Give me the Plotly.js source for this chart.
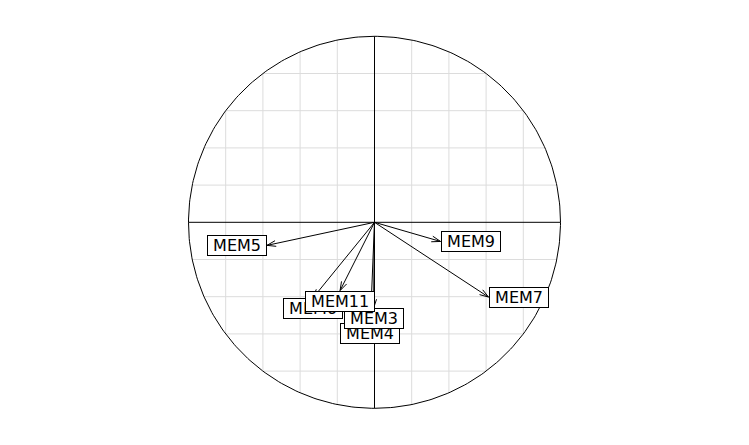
<!DOCTYPE html>
<html>
<head>
<meta charset="utf-8">
<script src="https://cdn.plot.ly/plotly-3.0.1.min.js"></script>
<style>html,body{margin:0;padding:0;background:#fff;}#chart{width:749px;height:445px;}</style>
</head>
<body>
<div id="chart"></div>
<script>
// Variable names and their correlation-circle coordinates
var varNames = ['MEM4', 'MEM3', 'MEM5', 'MEM6', 'MEM11', 'MEM7', 'MEM9'];
var axis1 = [-0.022, -0.005, -0.578, -0.331, -0.185, 0.613, 0.355];
var axis2 = [-0.539, -0.461, -0.124, -0.407, -0.367, -0.402, -0.103];
var gridValues = [-0.8, -0.6, -0.4, -0.2, 0.2, 0.4, 0.6, 0.8];

var traces = [];

// grid clipped to the unit circle
var gx = [], gy = [];
gridValues.forEach(function (g) {
  var h = Math.sqrt(1 - g * g);
  gx.push(g, g, null); gy.push(-h, h, null);
  gx.push(-h, h, null); gy.push(g, g, null);
});
traces.push({x: gx, y: gy, mode: 'lines', line: {color: '#dcdcdc', width: 1}, hoverinfo: 'skip', showlegend: false});

// axes through the origin
traces.push({x: [-1, 1, null, 0, 0], y: [0, 0, null, -1, 1], mode: 'lines', line: {color: '#000', width: 1}, hoverinfo: 'skip', showlegend: false});

// unit circle
var cx = [], cy = [];
for (var i = 0; i <= 360; i++) { var t = i * Math.PI / 180; cx.push(Math.cos(t)); cy.push(Math.sin(t)); }
traces.push({x: cx, y: cy, mode: 'lines', line: {color: '#000', width: 1}, hoverinfo: 'skip', showlegend: false});

// arrows
var ax = [], ay = [];
var headLen = 0.05, headAng = 18 * Math.PI / 180;
for (var k = 0; k < varNames.length; k++) {
  var x = axis1[k], y = axis2[k];
  ax.push(0, x, null); ay.push(0, y, null);
  var a = Math.atan2(y, x);
  ax.push(x - headLen * Math.cos(a - headAng), x, x - headLen * Math.cos(a + headAng), null);
  ay.push(y - headLen * Math.sin(a - headAng), y, y - headLen * Math.sin(a + headAng), null);
}
traces.push({x: ax, y: ay, mode: 'lines', line: {color: '#000', width: 1}, hoverinfo: 'skip', showlegend: false});

// labels placed next to arrow tips (outside, by dominant direction)
var annotations = varNames.map(function (n, k) {
  var x = axis1[k], y = axis2[k];
  var xa = 'center', ya = 'middle';
  if (x > y && x > -y) xa = 'left';
  else if (x > y && x <= -y) ya = 'top';
  else if (x <= y && x <= -y) xa = 'right';
  else ya = 'bottom';
  return {
    x: x, y: y, xref: 'x', yref: 'y', text: '\u00A0' + n + '\u00A0', showarrow: false,
    xanchor: xa, yanchor: ya, bgcolor: '#fff', bordercolor: '#000', borderwidth: 1, borderpad: 0,
    font: {family: 'DejaVu Sans', size: 16, color: '#000'}
  };
});

var S = 186;
var layout = {
  width: 749, height: 445,
  margin: {l: 0, r: 0, t: 0, b: 0},
  paper_bgcolor: '#fff', plot_bgcolor: '#fff',
  xaxis: {range: [-374.5 / S, (749 - 374.5) / S], visible: false, fixedrange: true},
  yaxis: {range: [-(445 - 222.3) / S, 222.3 / S], visible: false, fixedrange: true},
  annotations: annotations,
  showlegend: false
};

Plotly.newPlot('chart', traces, layout, {displayModeBar: false, staticPlot: true});
</script>
</body>
</html>
